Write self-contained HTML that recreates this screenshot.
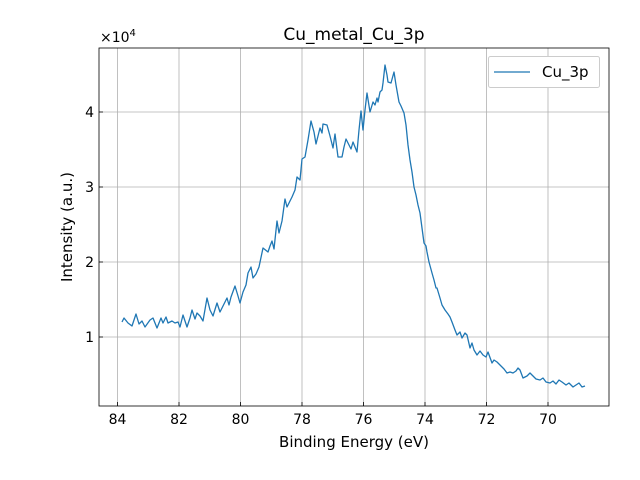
<!DOCTYPE html>
<html><head><meta charset="utf-8"><style>body{margin:0;background:#fff}svg{display:block;font-family:"DejaVu Sans","Liberation Sans",sans-serif}</style></head>
<body>
<svg width="640" height="480" viewBox="0 0 640 480">
<rect width="640" height="480" fill="#fff"/>
<g stroke="#b0b0b0" stroke-width="0.8">
<line x1="117.5" y1="48" x2="117.5" y2="406"/><line x1="179" y1="48" x2="179" y2="406"/><line x1="240.5" y1="48" x2="240.5" y2="406"/><line x1="302" y1="48" x2="302" y2="406"/><line x1="363.5" y1="48" x2="363.5" y2="406"/><line x1="425" y1="48" x2="425" y2="406"/><line x1="486.5" y1="48" x2="486.5" y2="406"/><line x1="548" y1="48" x2="548" y2="406"/>
<line x1="99" y1="337" x2="609" y2="337"/><line x1="99" y1="262" x2="609" y2="262"/><line x1="99" y1="187" x2="609" y2="187"/><line x1="99" y1="112" x2="609" y2="112"/>
</g>
<polyline fill="none" stroke="#1f77b4" stroke-width="1.3" stroke-linejoin="round" points="122,322 124,318 128,323 132,326 136,314 139,324 142,321 145,327 150,320 153,318 157,328 161,318 163,323 166,317 168,323 172,321 175,323 178,322 180,327 183,315 187,327 190,318 192,310 195,319 197,313 200,316 203,321 207,298 210,310 213,316 217,303 220,312 224,304 227,298 229,305 231,297 235,286 238,296 240,303 243,292 246,285 248,273 251,267 253,278 256,274 259,267 263,248 268,252 270,246 272,241 274,249 277,221 279,233 282,221 285,199 287,207 290,201 292,197 295,190 297,177 300,180 302,159 305,157 308,140 311,121 314,132 316,144 320,128 322,133 323,124 327,125 330,136 333,148 335,134 338,157 342,157 344,147 346,139 348,143 351,149 353,142 357,152 359,130 361,111 363,130 365,110 367,93 370,112 373,102 375,105 377,98 378,102 380,92 382,90 383,83 385,65 387,75 388,82 391,83 394,72 396,85 399,102 401,106 404,113 406,125 408,145 410,160 412,172 414,187 416,195 418,205 420,213 422,228 424,243 426,246 427,252 429,262 432,273 434,280 436,288 437,288 440,298 442,305 445,310 448,314 450,317 452,322 455,330 457,335 460,332 462,338 465,333 467,335 470,348 472,343 474,350 477,355 480,351 483,355 486,357 488,352 492,363 494,360 497,362 501,366 504,369 507,373 510,372 513,373 516,371 518,368 520,370 523,378 527,376 530,373 533,376 536,379 540,380 543,378 546,382 550,383 553,381 556,384 559,380 562,382 566,385 569,383 573,387 576,385 579,383 582,387 585,386"/>
<rect x="99" y="48" width="510" height="358" fill="none" stroke="#000" stroke-width="0.8"/>
<g stroke="#000" stroke-width="0.8">
<line x1="117.5" y1="406" x2="117.5" y2="402"/><line x1="179" y1="406" x2="179" y2="402"/><line x1="240.5" y1="406" x2="240.5" y2="402"/><line x1="302" y1="406" x2="302" y2="402"/><line x1="363.5" y1="406" x2="363.5" y2="402"/><line x1="425" y1="406" x2="425" y2="402"/><line x1="486.5" y1="406" x2="486.5" y2="402"/><line x1="548" y1="406" x2="548" y2="402"/>
<line x1="99" y1="337" x2="103" y2="337"/><line x1="99" y1="262" x2="103" y2="262"/><line x1="99" y1="187" x2="103" y2="187"/><line x1="99" y1="112" x2="103" y2="112"/>
</g>
<g font-size="14" text-anchor="middle" fill="#000">
<text x="117.5" y="424">84</text><text x="179" y="424">82</text><text x="240.5" y="424">80</text><text x="302" y="424">78</text><text x="363.5" y="424">76</text><text x="425" y="424">74</text><text x="486.5" y="424">72</text><text x="548" y="424">70</text>
</g>
<g font-size="14" text-anchor="end" fill="#000">
<text x="94" y="342">1</text><text x="94" y="267">2</text><text x="94" y="192">3</text><text x="94" y="117">4</text>
</g>
<text x="100" y="42" font-size="14">×10<tspan font-size="10" dy="-6">4</tspan></text>
<text x="354" y="40" font-size="17" text-anchor="middle">Cu_metal_Cu_3p</text>
<text x="354" y="447" font-size="15" text-anchor="middle">Binding Energy (eV)</text>
<text transform="translate(72,227) rotate(-90)" font-size="15" text-anchor="middle">Intensity (a.u.)</text>
<rect x="488.5" y="56.5" width="111" height="31" rx="2" fill="#fff" stroke="#ccc"/>
<line x1="494" y1="72" x2="530" y2="72" stroke="#1f77b4" stroke-width="1.3"/>
<text x="542" y="77" font-size="15">Cu_3p</text>
</svg>
</body></html>
